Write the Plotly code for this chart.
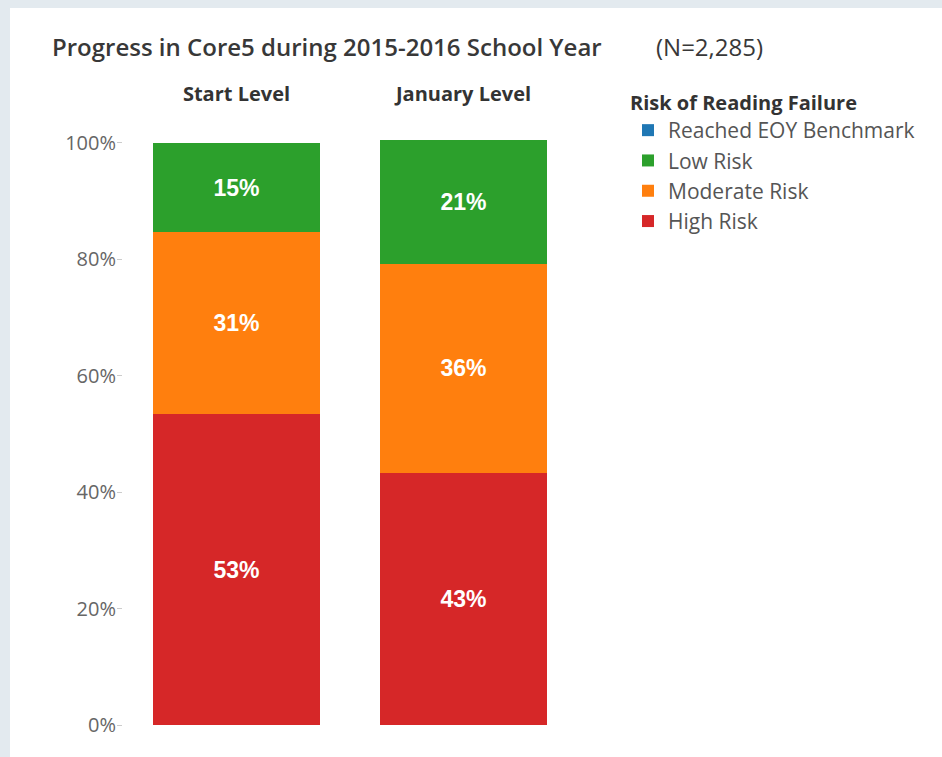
import plotly.graph_objects as go

# ---- data ----
categories = ["Start Level", "January Level"]
high_risk = [53.4, 43.3]
moderate_risk = [31.2, 35.9]
low_risk = [15.4, 21.3]
reached_eoy = [0, 0]
y_ticks = [0, 20, 40, 60, 80, 100]
y_tick_labels = ["0%", "20%", "40%", "60%", "80%", "100%"]

colors = {
    "Reached EOY Benchmark": "#1f77b4",
    "Low Risk": "#2ca02c",
    "Moderate Risk": "#ff7f0e",
    "High Risk": "#d62728",
}

fig = go.Figure()
series = [
    ("High Risk", high_risk, True),
    ("Moderate Risk", moderate_risk, True),
    ("Low Risk", low_risk, True),
    ("Reached EOY Benchmark", reached_eoy, False),
]
for name, vals, show_text in series:
    fig.add_trace(go.Bar(
        x=categories, y=vals, name=name,
        marker=dict(color=colors[name], line=dict(width=0)),
        texttemplate="%{y:.0f}%" if show_text else None,
        textposition="inside" if show_text else "none",
        insidetextanchor="middle",
        textfont=dict(family="Liberation Sans", size=23, color="white", weight="bold"),
        hoverinfo="skip",
    ))

fig.update_layout(
    width=942, height=757,
    barmode="stack", bargap=0.26,
    margin=dict(l=123, r=365, t=137, b=32),
    paper_bgcolor="#e3eaef",
    plot_bgcolor="white",
    showlegend=True,
    legend=dict(
        x=(628 - 123) / 454, xanchor="left", y=(725 - 84) / 588, yanchor="top",
        traceorder="reversed",
        title=dict(text="Risk of Reading Failure",
                   font=dict(family="Open Sans", size=20, color="#333", weight="bold")),
        font=dict(family="Open Sans", size=21, color="#555"),
        bgcolor="rgba(0,0,0,0)",
    ),
    xaxis=dict(
        side="top", showgrid=False, showline=False, zeroline=False,
        ticks="", ticklabelstandoff=31,
        tickfont=dict(family="Open Sans", size=20, color="#333", weight="bold"),
        range=[-0.5, 1.5],
    ),
    yaxis=dict(
        range=[0, 101], tickmode="array", tickvals=y_ticks, ticktext=y_tick_labels,
        showgrid=False, zeroline=False, showline=False,
        ticks="outside", ticklen=5, tickcolor="#cccccc", ticklabelstandoff=-3,
        tickfont=dict(family="Open Sans", size=20, color="#666"),
    ),
    shapes=[dict(
        type="rect", xref="paper", yref="paper",
        x0=(10 - 123) / 454, x1=(942 - 123) / 454,
        y0=(725 - 757) / 588, y1=(725 - 8) / 588,
        fillcolor="white", line=dict(width=0), layer="below",
    )],
    annotations=[
        dict(text="Progress in Core5 during 2015-2016 School Year",
             xref="paper", yref="paper", x=(50 - 123) / 454, y=(725 - 47) / 588,
             xanchor="left", yanchor="middle", showarrow=False,
             font=dict(family="Open Sans", size=24, color="#383838", weight=600)),
        dict(text="(N=2,285)",
             xref="paper", yref="paper", x=(654 - 123) / 454, y=(725 - 47) / 588,
             xanchor="left", yanchor="middle", showarrow=False,
             font=dict(family="Open Sans", size=24, color="#383838")),
    ],
)

fig.write_html("out.html", config={"displayModeBar": False},
               post_script="document.body.style.margin='0';")
